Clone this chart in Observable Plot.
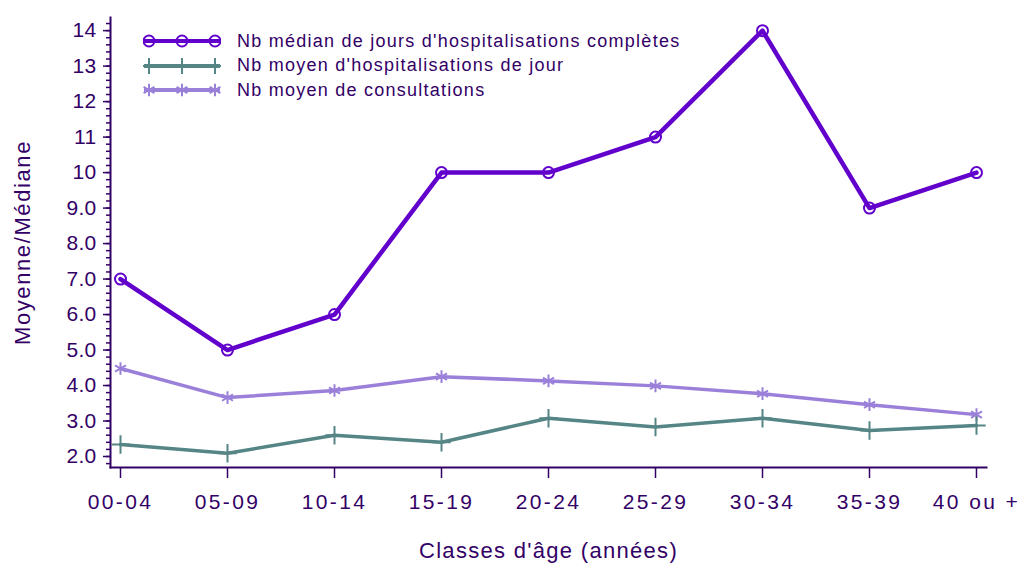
<!DOCTYPE html>
<html><head><meta charset="utf-8">
<script src="https://cdn.jsdelivr.net/npm/d3@7"></script>
<script src="https://cdn.jsdelivr.net/npm/@observablehq/plot@0.6"></script>
<style>
body{margin:0;background:#fff;font-family:"Liberation Sans",Arial,sans-serif;}
#wrap{position:relative;width:1022px;height:565px;}
#legend{position:absolute;left:143px;top:29px;font-size:18px;letter-spacing:1.25px;color:#330066;}
#legend div{display:flex;align-items:center;height:24.5px;}
#legend svg{margin-right:16px;}
</style></head><body>
<div id="wrap"><div id="legend"></div></div>
<script>
const categories = ["00-04","05-09","10-14","15-19","20-24","25-29","30-34","35-39","40 ou +"];
const medianJours = [7, 5, 6, 10, 10, 11, 14, 9, 10];
const moyenHospJour = [2.34, 2.09, 2.60, 2.40, 3.08, 2.83, 3.08, 2.73, 2.87];
const moyenConsult = [4.48, 3.66, 3.86, 4.25, 4.13, 3.99, 3.77, 3.46, 3.18];
const seriesNames = ["Nb médian de jours d'hospitalisations complètes","Nb moyen d'hospitalisations de jour","Nb moyen de consultations"];
const colors = ["#6200cc","#568585","#9b80da"];
const symbols = ["circle","plus","asterisk"];
const majorTicks = [2,3,4,5,6,7,8,9,10,11,12,13,14];
const minorTicks = d3.range(18, 143, 2).map(v => v/10);
const txt = "#330066";

const values = [medianJours, moyenHospJour, moyenConsult];
const rows = [];
values.forEach((arr, s) => arr.forEach((v, i) => rows.push({cat: categories[i], v, s})));

const chart = Plot.plot({
  width: 1022, height: 565,
  marginLeft: 110, marginRight: 36, marginTop: 17, marginBottom: 98,
  style: {fontFamily: '"Liberation Sans", Arial, sans-serif', color: txt, background: "#fff"},
  x: {type: "point", domain: categories, padding: 0.08},
  y: {domain: [1.69, 14.37]},
  marks: [
    Plot.axisY({ticks: minorTicks, tickSize: 4, tickFormat: () => "", stroke: txt, strokeWidth: 1.5, label: null}),
    Plot.axisY({ticks: majorTicks, tickSize: 7, tickPadding: 7, stroke: txt, strokeWidth: 1.5, fill: txt,
      tickFormat: d => d >= 10 ? String(d) : d.toFixed(1),
      label: "Moyenne/Médiane", labelAnchor: "center", labelArrow: "none", labelOffset: 96}),
    Plot.axisX({tickSize: 11, tickPadding: 16, stroke: txt, strokeWidth: 1.5, fill: txt,
      label: "Classes d'âge (années)", labelAnchor: "center", labelArrow: "none", labelOffset: 90}),
    Plot.frame({anchor: "left", stroke: txt, strokeWidth: 2}),
    Plot.frame({anchor: "bottom", stroke: txt, strokeWidth: 2}),
    ...[2, 1, 0].flatMap(s => [
      Plot.line(rows.filter(d => d.s === s), {x: "cat", y: "v", stroke: colors[s], strokeWidth: s === 0 ? 4.5 : 3.5}),
      Plot.dot(rows.filter(d => d.s === s), {x: "cat", y: "v", stroke: colors[s], symbol: symbols[s], r: s === 0 ? 5.5 : 6, strokeWidth: 2, fill: "none"})
    ])
  ]
});
chart.style.position = "absolute"; chart.style.left = "0"; chart.style.top = "0";
chart.querySelectorAll("text").forEach(t => t.setAttribute("fill", txt));
const setFont = (sel, size, ls) => chart.querySelectorAll(`[aria-label="${sel}"]`).forEach(g => {
  g.setAttribute("font-size", size); g.style.letterSpacing = ls;
});
setFont("y-axis tick label", 21, "0.3px");
setFont("x-axis tick label", 21, "2.4px");
setFont("y-axis label", 22, "1.6px");
setFont("x-axis label", 22, "1.3px");
const wrap = document.getElementById("wrap");
wrap.insertBefore(chart, wrap.firstChild);

const leg = d3.select("#legend");
seriesNames.forEach((name, s) => {
  const row = leg.append("div");
  const svg = row.append("svg").attr("width", 78).attr("height", 16);
  svg.append("line").attr("x1", 1).attr("x2", 77).attr("y1", 8).attr("y2", 8).attr("stroke", colors[s]).attr("stroke-width", 4);
  [6, 39, 72].forEach(cx => {
    const sym = d3.symbol(s === 0 ? d3.symbolCircle : s === 1 ? d3.symbolPlus : d3.symbolAsterisk, s === 0 ? 95 : 110);
    svg.append("path").attr("d", sym()).attr("transform", `translate(${cx},8)`).attr("fill", "none").attr("stroke", colors[s]).attr("stroke-width", 2);
  });
  row.append("span").text(name);
});
</script></body></html>
